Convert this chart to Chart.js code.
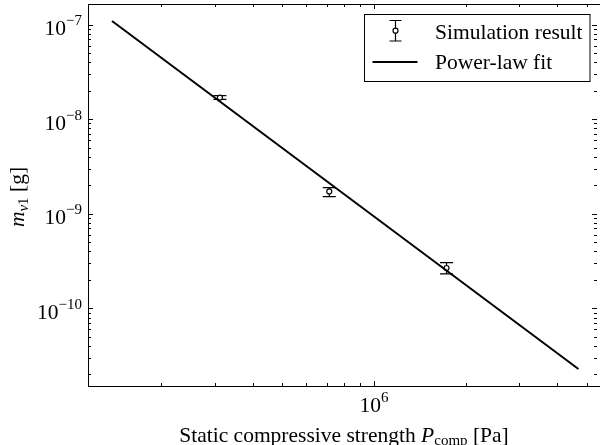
<!DOCTYPE html>
<html lang="en">
<head>
    <meta charset="UTF-8">
    <title>Power-law fit</title>
    <script src="https://cdn.jsdelivr.net/npm/chart.js"></script>
    <style>
        body {
            margin: 0;
            background: white;
        }
        #wrap {
            width: 600px;
            height: 445px;
        }
    </style>
</head>
<body>
<div id="wrap">
    <canvas id="fitChart" width="600" height="445"></canvas>
</div>

<script>
    // simulation results (static compressive strength [Pa] vs m_v1 [g])
    const pressure = [3.12e5, 7.13e5, 1.73e6];
    const mass = [1.69e-8, 1.72e-9, 2.67e-10];
    const massLow = [1.62e-8, 1.52e-9, 2.31e-10];
    const massHigh = [1.77e-8, 1.89e-9, 3.05e-10];

    // power-law fit end points
    const fitX = [1.38e5, 4.69e6];
    const fitY = [1.09e-7, 2.28e-11];

    // axis ranges and ticks
    const xRange = [1.151e5, 5.52e6];
    const yRange = [1.51e-11, 1.65e-7];
    const xMajor = [1e6];
    const xMinor = [2e5, 3e5, 4e5, 5e5, 6e5, 7e5, 8e5, 9e5, 2e6, 3e6, 4e6, 5e6];
    const yMajor = [1e-10, 1e-9, 1e-8, 1e-7];
    const yMajorExp = ['−10', '−9', '−8', '−7'];
    const xMajorExp = ['6'];
    const yMinorMult = [2, 3, 4, 5, 6, 7, 8, 9];

    const SERIF = '"Liberation Serif", "Times New Roman", serif';
    const BIG = '21.5px ' + SERIF;
    const SMALL = '15px ' + SERIF;

    function runsWidth(ctx, runs) {
        let w = 0;
        runs.forEach(r => { ctx.font = r.font; w += ctx.measureText(r.text).width; });
        return w;
    }

    function drawRuns(ctx, runs, x, y) {
        let cx = x;
        runs.forEach(r => {
            ctx.font = r.font;
            ctx.fillText(r.text, cx, y + (r.dy || 0));
            cx += ctx.measureText(r.text).width;
        });
    }

    function yMinorTicks() {
        const out = [];
        [1e-11, 1e-10, 1e-9, 1e-8, 1e-7].forEach(d => {
            yMinorMult.forEach(m => {
                const v = d * m;
                if (v > yRange[0] && v < yRange[1]) out.push(v);
            });
        });
        return out;
    }

    const axesPlugin = {
        id: 'axesPlugin',
        beforeDatasetsDraw(chart) {
            const ctx = chart.ctx;
            const xs = chart.scales.x;
            const ys = chart.scales.y;
            ctx.save();
            ctx.strokeStyle = '#000';
            ctx.lineWidth = 1.2;
            pressure.forEach((p, i) => {
                const px = xs.getPixelForValue(p);
                const top = ys.getPixelForValue(massHigh[i]);
                const bot = ys.getPixelForValue(massLow[i]);
                ctx.beginPath();
                ctx.moveTo(px, top);
                ctx.lineTo(px, bot);
                ctx.moveTo(px - 6.5, top);
                ctx.lineTo(px + 6.5, top);
                ctx.moveTo(px - 6.5, bot);
                ctx.lineTo(px + 6.5, bot);
                ctx.stroke();
            });
            ctx.restore();
        },
        afterDraw(chart) {
            const ctx = chart.ctx;
            const a = chart.chartArea;
            const xs = chart.scales.x;
            const ys = chart.scales.y;
            ctx.save();
            ctx.strokeStyle = '#000';
            ctx.fillStyle = '#000';
            ctx.lineWidth = 1;

            // frame
            ctx.strokeRect(Math.round(a.left) + 0.5, Math.round(a.top) + 0.5,
                Math.round(a.right - a.left), Math.round(a.bottom - a.top));

            // ticks, all pointing inward
            ctx.beginPath();
            const xTick = (v, len) => {
                const px = Math.round(xs.getPixelForValue(v)) + 0.5;
                ctx.moveTo(px, a.bottom);
                ctx.lineTo(px, a.bottom - len);
                ctx.moveTo(px, a.top);
                ctx.lineTo(px, a.top + len);
            };
            const yTick = (v, len) => {
                const py = Math.round(ys.getPixelForValue(v)) + 0.5;
                ctx.moveTo(a.left, py);
                ctx.lineTo(a.left + len, py);
                ctx.moveTo(a.right - 3, py);
                ctx.lineTo(a.right - 3 - len, py);
            };
            xMajor.forEach(v => xTick(v, 5));
            xMinor.forEach(v => xTick(v, 3));
            yMajor.forEach(v => yTick(v, 5));
            yMinorTicks().forEach(v => yTick(v, 3));
            ctx.stroke();

            // y tick labels
            ctx.textBaseline = 'alphabetic';
            ctx.textAlign = 'left';
            yMajor.forEach((v, i) => {
                const py = ys.getPixelForValue(v);
                const runs = [{text: '10', font: BIG, dy: 10.5}, {text: yMajorExp[i], font: SMALL, dy: 0.5}];
                const w = runsWidth(ctx, runs);
                drawRuns(ctx, runs, a.left - 6 - w, py);
            });

            // x tick labels
            xMajor.forEach((v, i) => {
                const px = xs.getPixelForValue(v);
                const runs = [{text: '10', font: BIG}, {text: xMajorExp[i], font: SMALL, dy: -10}];
                const w = runsWidth(ctx, runs);
                drawRuns(ctx, runs, px - w / 2, 411.5);
            });

            // x axis title
            const xTitle = [
                {text: 'Static compressive strength ', font: BIG},
                {text: 'P', font: 'italic ' + BIG},
                {text: 'comp', font: SMALL, dy: 3},
                {text: ' [Pa]', font: BIG}
            ];
            const xw = runsWidth(ctx, xTitle);
            drawRuns(ctx, xTitle, (a.left + a.right) / 2 - xw / 2, 441.5);

            // y axis title
            const yTitle = [
                {text: 'm', font: 'italic ' + BIG},
                {text: 'v', font: 'italic ' + SMALL, dy: 4},
                {text: '1', font: SMALL, dy: 4},
                {text: ' [g]', font: BIG}
            ];
            const yw = runsWidth(ctx, yTitle);
            ctx.save();
            ctx.translate(24, 197);
            ctx.rotate(-Math.PI / 2);
            drawRuns(ctx, yTitle, -yw / 2, 0);
            ctx.restore();

            // legend
            ctx.fillStyle = '#fff';
            ctx.fillRect(364.5, 14.5, 225.5, 67);
            ctx.strokeRect(364.5, 14.5, 225.5, 67);
            ctx.fillStyle = '#000';
            ctx.lineWidth = 1.2;
            ctx.beginPath();
            ctx.moveTo(395.5, 20.5);
            ctx.lineTo(395.5, 41);
            ctx.moveTo(389.5, 20.5);
            ctx.lineTo(401.5, 20.5);
            ctx.moveTo(389.5, 41);
            ctx.lineTo(401.5, 41);
            ctx.stroke();
            ctx.beginPath();
            ctx.arc(395.5, 30.7, 2.5, 0, Math.PI * 2);
            ctx.fillStyle = '#fff';
            ctx.fill();
            ctx.stroke();
            ctx.lineWidth = 2;
            ctx.beginPath();
            ctx.moveTo(372.5, 62);
            ctx.lineTo(417.5, 62);
            ctx.stroke();
            ctx.fillStyle = '#000';
            ctx.font = BIG;
            ctx.fillText('Simulation result', 435, 38.5);
            ctx.fillText('Power-law fit', 435, 68.5);
            ctx.restore();
        }
    };

    const ctx = document.getElementById('fitChart').getContext('2d');
    new Chart(ctx, {
        type: 'scatter',
        data: {
            datasets: [{
                label: 'Power-law fit',
                type: 'line',
                data: fitX.map((x, i) => ({x: x, y: fitY[i]})),
                borderColor: '#000',
                borderWidth: 2,
                pointRadius: 0,
                fill: false
            }, {
                label: 'Simulation result',
                data: pressure.map((x, i) => ({x: x, y: mass[i]})),
                pointStyle: 'circle',
                pointRadius: 2.5,
                pointBorderWidth: 1.2,
                pointBackgroundColor: '#fff',
                pointBorderColor: '#000'
            }]
        },
        options: {
            responsive: false,
            animation: false,
            events: [],
            layout: {
                autoPadding: false,
                padding: {left: 88, top: 4, right: 0, bottom: 59}
            },
            plugins: {
                legend: {display: false},
                tooltip: {enabled: false}
            },
            scales: {
                x: {
                    type: 'logarithmic',
                    min: xRange[0],
                    max: xRange[1],
                    display: false
                },
                y: {
                    type: 'logarithmic',
                    min: yRange[0],
                    max: yRange[1],
                    display: false
                }
            }
        },
        plugins: [axesPlugin]
    });
</script>
</body>
</html>
